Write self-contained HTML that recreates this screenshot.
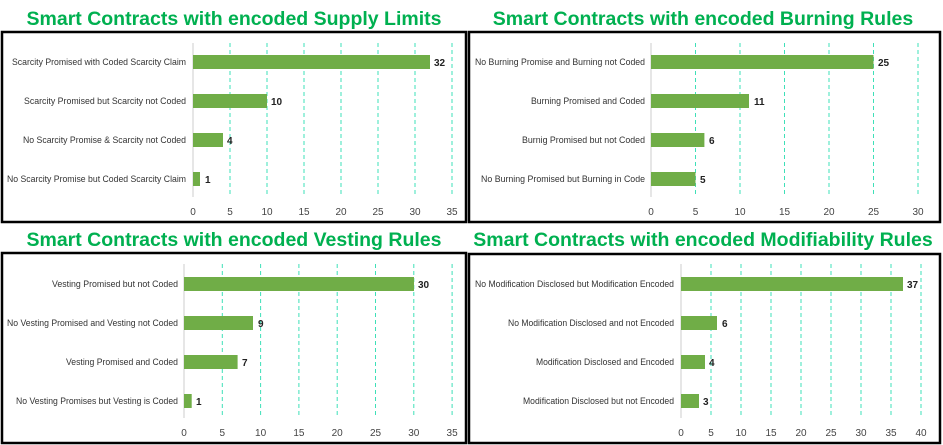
<!DOCTYPE html>
<html><head><meta charset="utf-8"><style>
html,body{margin:0;padding:0;background:#fff}
svg{display:block}
.t{font:bold 19.5px "Liberation Sans",sans-serif;fill:#00b050}
.l{font:9.5px "Liberation Sans",sans-serif;fill:#333;text-anchor:end}
.v{font:bold 10px "Liberation Sans",sans-serif;fill:#222}
.k{font:10px "Liberation Sans",sans-serif;fill:#444;text-anchor:middle}
.g{stroke:#3ee0b8;stroke-width:1;stroke-dasharray:4,3}
.a{stroke:#ccc;stroke-width:1}
.b{fill:#70ad47}
.box{fill:none;stroke:#000;stroke-width:2.5}
</style></head><body>
<svg width="943" height="445" viewBox="0 0 943 445">
<text class="t" x="234" y="25" text-anchor="middle">Smart Contracts with encoded Supply Limits</text>
<text class="t" x="703" y="25" text-anchor="middle">Smart Contracts with encoded Burning Rules</text>
<text class="t" x="234" y="246" text-anchor="middle">Smart Contracts with encoded Vesting Rules</text>
<text class="t" x="703" y="246" text-anchor="middle">Smart Contracts with encoded Modifiability Rules</text>
<rect class="box" x="2" y="32" width="464" height="190"/>
<rect class="box" x="469" y="32" width="471" height="190"/>
<rect class="box" x="2" y="253" width="464" height="190"/>
<rect class="box" x="469" y="254" width="471" height="189"/>

<!-- Panel 1 -->
<g>
<line class="g" x1="230" y1="43" x2="230" y2="197"/><line class="g" x1="267" y1="43" x2="267" y2="197"/><line class="g" x1="304" y1="43" x2="304" y2="197"/><line class="g" x1="341" y1="43" x2="341" y2="197"/><line class="g" x1="378" y1="43" x2="378" y2="197"/><line class="g" x1="415" y1="43" x2="415" y2="197"/><line class="g" x1="452" y1="43" x2="452" y2="197"/>
<line class="a" x1="193" y1="43" x2="193" y2="197"/>
<rect class="b" x="193" y="55" width="237" height="14"/><rect class="b" x="193" y="94" width="74" height="14"/><rect class="b" x="193" y="133" width="30" height="14"/><rect class="b" x="193" y="172" width="7" height="14"/>
<text class="l" x="186" y="65" textLength="174" lengthAdjust="spacingAndGlyphs">Scarcity Promised with Coded Scarcity Claim</text>
<text class="l" x="186" y="104" textLength="162" lengthAdjust="spacingAndGlyphs">Scarcity Promised but Scarcity not Coded</text>
<text class="l" x="186" y="143" textLength="163" lengthAdjust="spacingAndGlyphs">No Scarcity Promise &amp; Scarcity not Coded</text>
<text class="l" x="186" y="182" textLength="179" lengthAdjust="spacingAndGlyphs">No Scarcity Promise but Coded Scarcity Claim</text>
<text class="v" x="434" y="66">32</text><text class="v" x="271" y="105">10</text><text class="v" x="227" y="144">4</text><text class="v" x="205" y="183">1</text>
<text class="k" x="193" y="215">0</text><text class="k" x="230" y="215">5</text><text class="k" x="267" y="215">10</text><text class="k" x="304" y="215">15</text><text class="k" x="341" y="215">20</text><text class="k" x="378" y="215">25</text><text class="k" x="415" y="215">30</text><text class="k" x="452" y="215">35</text>
</g>

<!-- Panel 2 -->
<g>
<line class="g" x1="695.5" y1="43" x2="695.5" y2="197"/><line class="g" x1="740" y1="43" x2="740" y2="197"/><line class="g" x1="784.5" y1="43" x2="784.5" y2="197"/><line class="g" x1="829" y1="43" x2="829" y2="197"/><line class="g" x1="873.5" y1="43" x2="873.5" y2="197"/><line class="g" x1="918" y1="43" x2="918" y2="197"/>
<line class="a" x1="651" y1="43" x2="651" y2="197"/>
<rect class="b" x="651" y="55" width="222.5" height="14"/><rect class="b" x="651" y="94" width="98" height="14"/><rect class="b" x="651" y="133" width="53.4" height="14"/><rect class="b" x="651" y="172" width="44.5" height="14"/>
<text class="l" x="645" y="65" textLength="170" lengthAdjust="spacingAndGlyphs">No Burning Promise and Burning not Coded</text>
<text class="l" x="645" y="104" textLength="114" lengthAdjust="spacingAndGlyphs">Burning Promised and Coded</text>
<text class="l" x="645" y="143" textLength="123" lengthAdjust="spacingAndGlyphs">Burnig Promised but not Coded</text>
<text class="l" x="645" y="182" textLength="164" lengthAdjust="spacingAndGlyphs">No Burning Promised but Burning in Code</text>
<text class="v" x="878" y="66">25</text><text class="v" x="754" y="105">11</text><text class="v" x="709" y="144">6</text><text class="v" x="700" y="183">5</text>
<text class="k" x="651" y="215">0</text><text class="k" x="695.5" y="215">5</text><text class="k" x="740" y="215">10</text><text class="k" x="784.5" y="215">15</text><text class="k" x="829" y="215">20</text><text class="k" x="873.5" y="215">25</text><text class="k" x="918" y="215">30</text>
</g>

<!-- Panel 3 -->
<g>
<line class="g" x1="222.3" y1="264" x2="222.3" y2="418"/><line class="g" x1="260.6" y1="264" x2="260.6" y2="418"/><line class="g" x1="298.9" y1="264" x2="298.9" y2="418"/><line class="g" x1="337.2" y1="264" x2="337.2" y2="418"/><line class="g" x1="375.5" y1="264" x2="375.5" y2="418"/><line class="g" x1="413.8" y1="264" x2="413.8" y2="418"/><line class="g" x1="452.1" y1="264" x2="452.1" y2="418"/>
<line class="a" x1="184" y1="264" x2="184" y2="418"/>
<rect class="b" x="184" y="277" width="230" height="14"/><rect class="b" x="184" y="316" width="69" height="14"/><rect class="b" x="184" y="355" width="53.6" height="14"/><rect class="b" x="184" y="394" width="7.7" height="14"/>
<text class="l" x="178" y="287" textLength="126" lengthAdjust="spacingAndGlyphs">Vesting Promised but not Coded</text>
<text class="l" x="178" y="326" textLength="171" lengthAdjust="spacingAndGlyphs">No Vesting Promised and Vesting not Coded</text>
<text class="l" x="178" y="365" textLength="112" lengthAdjust="spacingAndGlyphs">Vesting Promised and Coded</text>
<text class="l" x="178" y="404" textLength="162" lengthAdjust="spacingAndGlyphs">No Vesting Promises but Vesting is Coded</text>
<text class="v" x="418" y="288">30</text><text class="v" x="258" y="327">9</text><text class="v" x="242" y="366">7</text><text class="v" x="196" y="405">1</text>
<text class="k" x="184" y="436">0</text><text class="k" x="222.3" y="436">5</text><text class="k" x="260.6" y="436">10</text><text class="k" x="298.9" y="436">15</text><text class="k" x="337.2" y="436">20</text><text class="k" x="375.5" y="436">25</text><text class="k" x="413.8" y="436">30</text><text class="k" x="452.1" y="436">35</text>
</g>

<!-- Panel 4 -->
<g>
<line class="g" x1="711" y1="264" x2="711" y2="418"/><line class="g" x1="741" y1="264" x2="741" y2="418"/><line class="g" x1="771" y1="264" x2="771" y2="418"/><line class="g" x1="801" y1="264" x2="801" y2="418"/><line class="g" x1="831" y1="264" x2="831" y2="418"/><line class="g" x1="861" y1="264" x2="861" y2="418"/><line class="g" x1="891" y1="264" x2="891" y2="418"/><line class="g" x1="921" y1="264" x2="921" y2="418"/>
<line class="a" x1="681" y1="264" x2="681" y2="418"/>
<rect class="b" x="681" y="277" width="222" height="14"/><rect class="b" x="681" y="316" width="36" height="14"/><rect class="b" x="681" y="355" width="24" height="14"/><rect class="b" x="681" y="394" width="18" height="14"/>
<text class="l" x="674" y="287" textLength="199" lengthAdjust="spacingAndGlyphs">No Modification Disclosed but Modification Encoded</text>
<text class="l" x="674" y="326" textLength="166" lengthAdjust="spacingAndGlyphs">No Modification Disclosed and not Encoded</text>
<text class="l" x="674" y="365" textLength="138" lengthAdjust="spacingAndGlyphs">Modification Disclosed and Encoded</text>
<text class="l" x="674" y="404" textLength="151" lengthAdjust="spacingAndGlyphs">Modification Disclosed but not Encoded</text>
<text class="v" x="907" y="288">37</text><text class="v" x="722" y="327">6</text><text class="v" x="709" y="366">4</text><text class="v" x="703" y="405">3</text>
<text class="k" x="681" y="436">0</text><text class="k" x="711" y="436">5</text><text class="k" x="741" y="436">10</text><text class="k" x="771" y="436">15</text><text class="k" x="801" y="436">20</text><text class="k" x="831" y="436">25</text><text class="k" x="861" y="436">30</text><text class="k" x="891" y="436">35</text><text class="k" x="921" y="436">40</text>
</g>
</svg>
</body></html>
